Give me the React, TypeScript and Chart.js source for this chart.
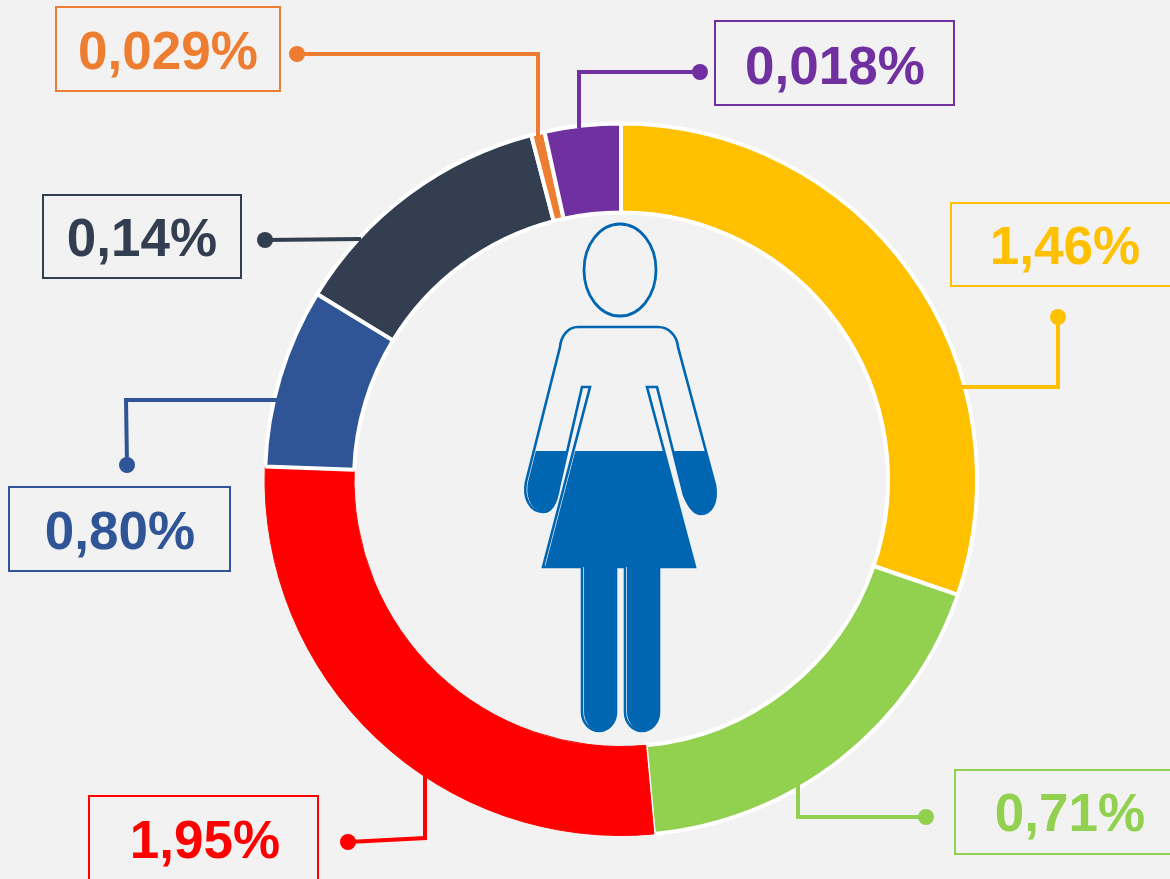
import React, { useEffect, useRef } from "react";
import { Chart, registerables } from "chart.js";

Chart.register(...registerables);

// Slice sizes as drawn in the picture (share of the ring, clockwise from 12 o'clock).
// The ring is not proportional to the printed percentages.
const sliceNames = ["Yellow", "Green", "Red", "Blue", "Navy", "Orange", "Purple"];
const sliceSizes = [108.9, 65.8, 97.4, 29.3, 44.0, 2.2, 12.4];
const sliceLabels = ["1,46%", "0,71%", "1,95%", "0,80%", "0,14%", "0,029%", "0,018%"];
const sliceColors = ["#FFC000", "#92D050", "#FF0000", "#2F5597", "#333F50", "#ED7D31", "#7030A0"];
const sliceBorderColors = ["#FFFFFF", "#FFFFFF", "#FF0000", "#FFFFFF", "#FFFFFF", "#FFFFFF", "#FFFFFF"];
const sliceBorderWidths = [4, 4, 1, 4, 4, 4, 4];

type Callout = {
  box: [number, number, number, number];
  textX: number;
  baseY: number;
  line: [number, number][];
};

const callouts: Callout[] = [
  { box: [951, 203, 260, 83], textX: 1065, baseY: 264, line: [[1058, 317], [1058, 387], [962, 387]] },
  { box: [955, 770, 260, 84], textX: 1070, baseY: 831, line: [[926, 817], [798, 817], [798, 785]] },
  { box: [89, 796, 229, 120], textX: 205, baseY: 858, line: [[348, 842], [425, 838], [425, 776]] },
  { box: [9, 487, 221, 84], textX: 120, baseY: 549, line: [[127, 465], [126, 400], [278, 400]] },
  { box: [43, 195, 198, 83], textX: 142, baseY: 256, line: [[265, 240], [361, 239]] },
  { box: [56, 7, 224, 84], textX: 168, baseY: 69, line: [[297, 54], [538, 54], [538, 136]] },
  { box: [715, 21, 239, 84], textX: 835, baseY: 84, line: [[700, 72], [579, 72], [579, 128]] },
];

const figureBlue = "#0066B2";
const fillLevelY = 451;

function bodyPath(): Path2D {
  const p = new Path2D();
  p.moveTo(578, 327);
  p.lineTo(658, 327);
  p.bezierCurveTo(669, 327, 677, 336, 678, 347);
  p.lineTo(715, 485);
  p.bezierCurveTo(718, 503, 711, 514, 701, 514);
  p.bezierCurveTo(693, 514, 688, 505, 684, 495);
  p.lineTo(657, 387);
  p.lineTo(647, 387);
  p.lineTo(695, 567);
  p.lineTo(659, 567);
  p.lineTo(659, 712);
  p.bezierCurveTo(659, 723, 651, 731, 642, 731);
  p.bezierCurveTo(633, 731, 625, 723, 625, 712);
  p.lineTo(625, 567);
  p.lineTo(616, 567);
  p.lineTo(616, 712);
  p.bezierCurveTo(616, 723, 608, 731, 599, 731);
  p.bezierCurveTo(590, 731, 582, 723, 582, 712);
  p.lineTo(582, 567);
  p.lineTo(543, 567);
  p.lineTo(590, 387);
  p.lineTo(582, 387);
  p.lineTo(559, 487);
  p.bezierCurveTo(557, 500, 553, 512, 543, 512);
  p.bezierCurveTo(530, 512, 523, 498, 526, 482);
  p.lineTo(560, 347);
  p.bezierCurveTo(561, 336, 568, 327, 578, 327);
  p.closePath();
  return p;
}

const overlayPlugin = {
  id: "overlay",
  afterDraw(chart: Chart) {
    const ctx = chart.ctx;
    ctx.save();
    // leader lines, boxes and labels
    callouts.forEach((c, i) => {
      ctx.strokeStyle = sliceColors[i];
      ctx.lineWidth = 4;
      ctx.lineJoin = "miter";
      ctx.beginPath();
      c.line.forEach(([x, y], k) => (k === 0 ? ctx.moveTo(x, y) : ctx.lineTo(x, y)));
      ctx.stroke();
      ctx.fillStyle = sliceColors[i];
      ctx.beginPath();
      ctx.arc(c.line[0][0], c.line[0][1], 8, 0, Math.PI * 2);
      ctx.fill();
      ctx.lineWidth = 2;
      ctx.strokeRect(c.box[0], c.box[1], c.box[2], c.box[3]);
      ctx.font = 'bold 53px "Liberation Sans", Arial, sans-serif';
      ctx.textAlign = "center";
      ctx.textBaseline = "alphabetic";
      ctx.fillText(sliceLabels[i], c.textX, c.baseY);
    });
    // figure in the centre
    const body = bodyPath();
    ctx.save();
    ctx.beginPath();
    ctx.rect(500, fillLevelY, 240, 300);
    ctx.clip();
    ctx.clip(body);
    ctx.fillStyle = figureBlue;
    ctx.fillRect(662, fillLevelY, 70, 120);
    ctx.translate(2, 0);
    ctx.clip(bodyPath());
    ctx.translate(-2, 0);
    ctx.fillRect(500, fillLevelY, 240, 300);
    ctx.restore();
    ctx.strokeStyle = figureBlue;
    ctx.lineWidth = 2.6;
    ctx.stroke(body);
    ctx.beginPath();
    ctx.ellipse(620, 270, 36, 46, 0, 0, Math.PI * 2);
    ctx.lineWidth = 2.8;
    ctx.stroke();
    ctx.restore();
  },
};

export default function App() {
  const ref = useRef<HTMLCanvasElement>(null);
  useEffect(() => {
    if (!ref.current) return;
    const chart = new Chart(ref.current, {
      type: "doughnut",
      data: {
        labels: sliceNames,
        datasets: [
          {
            data: sliceSizes,
            backgroundColor: sliceColors,
            borderColor: sliceBorderColors,
            borderWidth: sliceBorderWidths,
          },
        ],
      },
      options: {
        responsive: false,
        animation: false,
        cutout: "75%",
        layout: { padding: { left: 263, right: 191, top: 121.5, bottom: 41.5 } },
        plugins: { legend: { display: false }, tooltip: { enabled: false } },
      },
      plugins: [overlayPlugin],
    });
    return () => chart.destroy();
  }, []);
  return (
    <div style={{ position: "fixed", left: 0, top: 0, width: 1170, height: 879, background: "#F2F2F2", overflow: "hidden" }}>
      <canvas ref={ref} width={1170} height={879} style={{ display: "block" }} />
    </div>
  );
}
